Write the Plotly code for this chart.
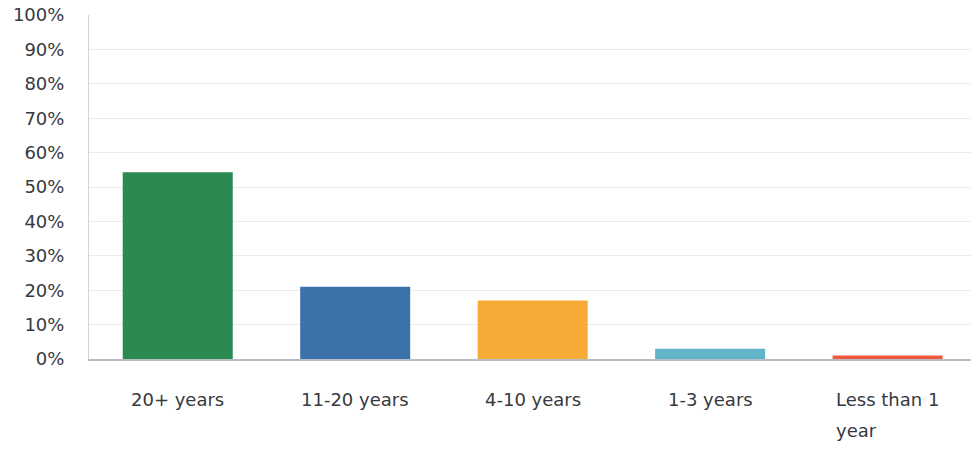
import plotly.graph_objects as go

categories = ["20+ years", "11-20 years", "4-10 years", "1-3 years", "Less than 1<br>year"]
values = [54.3, 21, 17, 3, 1]
colors = ["#2b8a52", "#3b72aa", "#f7ab37", "#62b4c9", "#f2573b"]
ytick_vals = [0, 10, 20, 30, 40, 50, 60, 70, 80, 90, 100]
ytick_text = [f"{v}%" for v in ytick_vals]

FONT = "DejaVu Sans"
TXT = "#363940"
LABEL_SIZE = 18

fig = go.Figure(go.Bar(
    x=list(range(len(categories))),
    y=values,
    marker=dict(color=colors, line=dict(width=0)),
    width=0.62,
    hoverinfo="skip",
))

for i, c in enumerate(categories):
    lines = c.split("<br>")
    txt = "<br>".join(f"<span style='font-size:{LABEL_SIZE}px'>{ln}</span>" for ln in lines)
    fig.add_annotation(
        x=i, y=0, xref="x", yref="y",
        text=txt, showarrow=False,
        xanchor="center", yanchor="top", align="left",
        yshift=-28,
        font=dict(family=FONT, size=24, color=TXT),
    )

fig.update_layout(
    width=971, height=449,
    margin=dict(l=89, r=0, t=15, b=90),
    paper_bgcolor="white", plot_bgcolor="white",
    showlegend=False,
    font=dict(family=FONT, size=18, color=TXT),
)
fig.update_xaxes(
    range=[-0.5, 4.47],
    showticklabels=False,
    showgrid=False, zeroline=False,
    showline=True, linecolor="#b8bcc4", linewidth=1.5,
)
fig.update_yaxes(
    range=[0, 100],
    tickvals=ytick_vals, ticktext=ytick_text,
    showgrid=True, gridcolor="#ececec", gridwidth=1,
    zeroline=False,
    showline=True, linecolor="#d0d3d8", linewidth=1,
    ticks="", ticklabelstandoff=20,
    tickfont=dict(family=FONT, size=18, color=TXT),
)

fig.write_html("out.html")
